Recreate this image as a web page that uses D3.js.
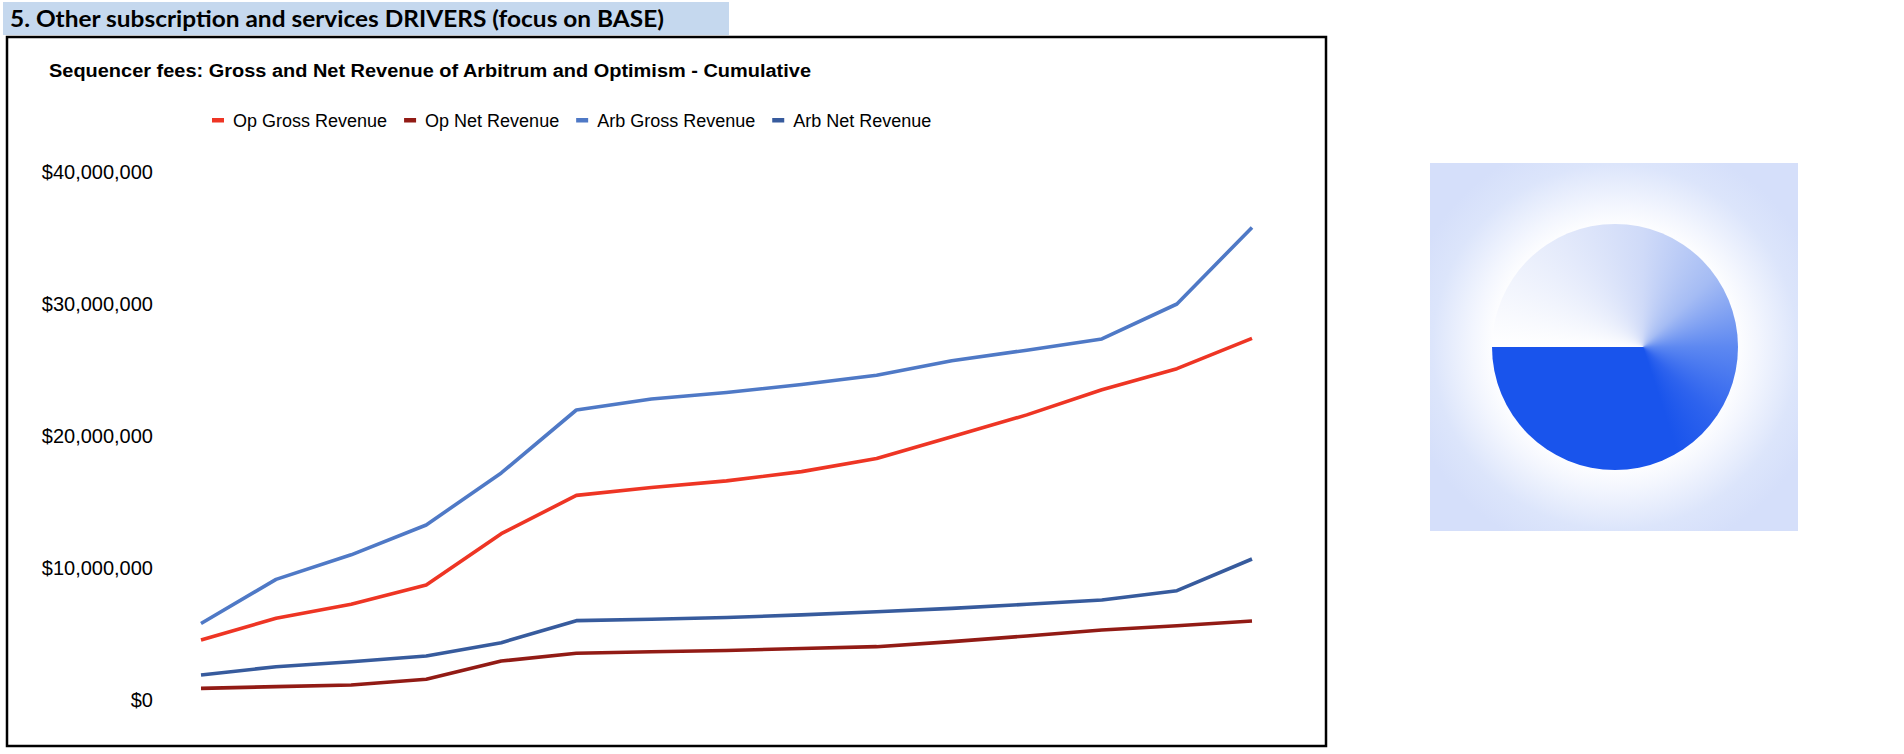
<!DOCTYPE html>
<html>
<head>
<meta charset="utf-8">
<script src="https://cdn.jsdelivr.net/npm/d3@7"></script>
<style>
  html, body { margin: 0; padding: 0; background: #ffffff; }
  svg { display: block; }
  text { font-family: "Liberation Sans", Arial, sans-serif; }
</style>
</head>
<body>
<svg id="chart" width="1904" height="754"></svg>
<script>
// ---------------- DATA ----------------
const sectionTitle = "5. Other subscription and services DRIVERS (focus on BASE)";
const chartTitle = "Sequencer fees: Gross and Net Revenue of Arbitrum and Optimism - Cumulative";
const categories = ["P1","P2","P3","P4","P5","P6","P7","P8","P9","P10","P11","P12","P13","P14","P15"];
const seriesNames = ["Op Gross Revenue", "Op Net Revenue", "Arb Gross Revenue", "Arb Net Revenue"];
const opGross  = [4.55e6, 6.19e6, 7.25e6, 8.71e6, 12.6e6, 15.5e6, 16.1e6, 16.6e6, 17.3e6, 18.3e6, 19.95e6, 21.6e6, 23.5e6, 25.1e6, 27.4e6];
const opNet    = [0.88e6, 1.01e6, 1.14e6, 1.57e6, 2.95e6, 3.54e6, 3.65e6, 3.75e6, 3.90e6, 4.04e6, 4.42e6, 4.85e6, 5.30e6, 5.63e6, 5.98e6];
const arbGross = [5.8e6, 9.14e6, 11.0e6, 13.26e6, 17.2e6, 21.97e6, 22.8e6, 23.3e6, 23.9e6, 24.6e6, 25.7e6, 26.5e6, 27.35e6, 30.0e6, 35.8e6];
const arbNet   = [1.89e6, 2.52e6, 2.90e6, 3.33e6, 4.34e6, 6.01e6, 6.12e6, 6.25e6, 6.45e6, 6.69e6, 6.94e6, 7.25e6, 7.58e6, 8.28e6, 10.68e6];
const yTicks = [0, 10e6, 20e6, 30e6, 40e6];
const seriesColors = ["#ee3524", "#921b15", "#4f79c6", "#375b9d"];

// ---------------- LAYOUT ----------------
const svg = d3.select("#chart");
svg.append("rect").attr("width", 1904).attr("height", 754).attr("fill", "#ffffff");

// section header band
svg.append("rect").attr("x", 3).attr("y", 2).attr("width", 726).attr("height", 33).attr("fill", "#c5d8ee");
svg.append("text").attr("x", 10).attr("y", 27)
  .style("font-family", "Lato, 'Open Sans', sans-serif")
  .attr("font-size", 22).attr("font-weight", 700).attr("fill", "#000")
  .attr("textLength", 654).attr("lengthAdjust", "spacingAndGlyphs")
  .text(sectionTitle);

// chart frame
svg.append("rect").attr("x", 7).attr("y", 37).attr("width", 1319).attr("height", 709)
  .attr("fill", "#fff").attr("stroke", "#000").attr("stroke-width", 2.5);

// title
svg.append("text").attr("x", 49).attr("y", 77)
  .attr("font-size", 18).attr("font-weight", 700).attr("fill", "#000")
  .attr("textLength", 762).attr("lengthAdjust", "spacingAndGlyphs")
  .text(chartTitle);

// scales
const x = d3.scalePoint().domain(categories).range([201, 1252]);
const y = d3.scaleLinear().domain([0, 40e6]).range([700, 172]);

// y axis
const yAxis = d3.axisLeft(y).tickValues(yTicks).tickSize(0).tickPadding(0)
  .tickFormat(d => "$" + d3.format(",")(d));
const gy = svg.append("g").attr("transform", "translate(153,0)").call(yAxis);
gy.select(".domain").remove();
gy.selectAll("text").attr("font-size", 20).attr("fill", "#000")
  .style("font-family", "'Liberation Sans', Arial, sans-serif").attr("dy", "0.3em");

// lines
const seriesData = [opGross, opNet, arbGross, arbNet];
const line = d3.line().x((d, i) => x(categories[i])).y(d => y(d));
svg.append("g").selectAll("path").data(seriesData).join("path")
  .attr("d", d => line(d))
  .attr("fill", "none")
  .attr("stroke", (d, i) => seriesColors[i])
  .attr("stroke-width", 3.6)
  .attr("stroke-linejoin", "round");

// legend
const legend = svg.append("g");
let lx = 212;
seriesNames.forEach((name, i) => {
  legend.append("rect").attr("x", lx).attr("y", 118).attr("width", 12).attr("height", 4.5)
    .attr("fill", seriesColors[i]);
  const t = legend.append("text").attr("x", lx + 21).attr("y", 126.5)
    .attr("font-size", 18).attr("fill", "#000").text(name);
  lx = lx + 21 + t.node().getComputedTextLength() + 17;
});

// ---------------- DECORATIVE BASE LOGO ----------------
const logo = { x: 1430, y: 163, size: 368, cx: 1615, cy: 347, r: 123, px: 1643 };
const defs = svg.append("defs");
const rg = defs.append("radialGradient").attr("id", "glow")
  .attr("gradientUnits", "userSpaceOnUse")
  .attr("cx", logo.cx).attr("cy", logo.cy).attr("r", 215);
rg.append("stop").attr("offset", "0.55").attr("stop-color", "#ffffff");
rg.append("stop").attr("offset", "0.66").attr("stop-color", "#f3f6fe");
rg.append("stop").attr("offset", "0.85").attr("stop-color", "#dce5fb");
rg.append("stop").attr("offset", "1").attr("stop-color", "#d5dffa");
svg.append("rect").attr("x", logo.x).attr("y", logo.y).attr("width", logo.size).attr("height", logo.size)
  .attr("fill", "url(#glow)");

// conic-gradient disc (angles clockwise from the left, CSS "from 270deg")
const conicAngles = [0, 90, 135, 180, 225, 252, 360];
const conicColors = ["#ffffff", "#cfdaf8", "#a5bcf4", "#5d88f1", "#2e63ee", "#1954ec", "#1954ec"];
const grad = "conic-gradient(from 270deg at " + ((logo.px - (logo.cx - logo.r)) / (2 * logo.r) * 100) + "% 50%, " +
  conicColors.map((c, i) => c + " " + conicAngles[i] + "deg").join(", ") + ")";
svg.append("foreignObject")
  .attr("x", logo.cx - logo.r).attr("y", logo.cy - logo.r)
  .attr("width", 2 * logo.r).attr("height", 2 * logo.r)
  .append("xhtml:div")
  .style("width", (2 * logo.r) + "px").style("height", (2 * logo.r) + "px")
  .style("border-radius", "50%")
  .style("background", grad);
</script>
</body>
</html>
